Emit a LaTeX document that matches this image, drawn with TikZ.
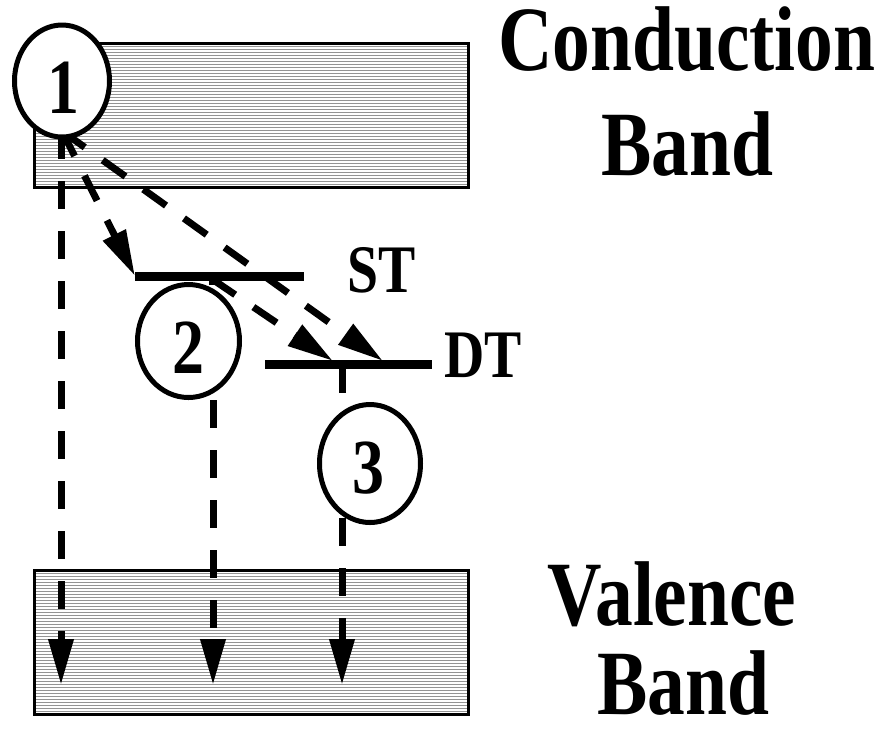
\documentclass[tikz,border=0pt]{standalone}
\usepackage{fontspec}
\usepackage{graphicx}
\setmainfont{Liberation Serif}
\usetikzlibrary{shapes.geometric, arrows.meta}
\newcommand{\sqz}[1]{\scalebox{0.82}[1]{#1}}
\begin{document}
\begin{tikzpicture}[x=0.5pt,y=-0.5pt,
  bandbox/.style={draw=black, line width=1.3pt, minimum width=217pt, minimum height=72pt, inner sep=0pt,
    path picture={\foreach \k in {1.5,3,...,72}{\draw[black!42, line width=0.65pt]
      ([yshift=-\k pt]path picture bounding box.north west) -- ([yshift=-\k pt]path picture bounding box.north east);}}},
  ring/.style={ellipse, draw=black, line width=2.5pt, fill=white, inner sep=0pt},
  lvl/.style={line width=4.5pt, line cap=butt},
  tick/.style={line width=3.5pt},
  dasharrow/.style={line width=3.5pt, dash pattern=on 14pt off 11pt, -{Triangle[length=23pt,width=12pt]}},
  bigtxt/.style={inner sep=0pt, anchor=base, font=\fontsize{46pt}{50pt}\selectfont\bfseries},
  midtxt/.style={inner sep=0pt, anchor=base, font=\fontsize{34pt}{38pt}\selectfont\bfseries},
  numtxt/.style={inner sep=0pt, anchor=base, font=\fontsize{39pt}{42pt}\selectfont\bfseries}
]
\useasboundingbox (0,0) rectangle (880,736);
\fill[white] (0,0) rectangle (880,736);

% bands
\node[bandbox] (cb) at (251.5,115.5) {};
\node[bandbox] (vb) at (251.5,642.5) {};

% trap levels
\coordinate (st1) at (135,276); \coordinate (st2) at (304,276);
\coordinate (dt1) at (265,364); \coordinate (dt2) at (432,364);
\draw[lvl] (st1) -- (st2);
\draw[lvl] (dt1) -- (dt2);

% connector end points
\coordinate (s1v) at (61,131);  \coordinate (e1v) at (61,685);
\coordinate (s1a) at (62,131);  \coordinate (e1a) at (135,276);
\coordinate (s1b) at (62,131);  \coordinate (e1b) at (383,361);
\coordinate (s2a) at (212,279); \coordinate (e2a) at (333,361);
\coordinate (s2v) at (213,400); \coordinate (e2v) at (213,685);
\coordinate (t2a) at (212,276); \coordinate (t2b) at (212,285);
\coordinate (t3a) at (342,364); \coordinate (t3b) at (342,393);
\coordinate (s3v) at (342,518); \coordinate (e3v) at (342,685);

\draw[dasharrow] (s1v) -- (e1v);
\draw[dasharrow] (s1a) -- (e1a);
\draw[dasharrow] (s1b) -- (e1b);
\draw[dasharrow] (s2a) -- (e2a);
\draw[dasharrow] (s2v) -- (e2v);
\draw[dasharrow] (s3v) -- (e3v);
\draw[tick] (t2a) -- (t2b);
\draw[tick] (t3a) -- (t3b);

% circles
\node[ring, minimum width=47.5pt, minimum height=56pt] (c1) at (62,81) {};
\node[ring, minimum width=51pt, minimum height=56.5pt] (c2) at (188.5,341) {};
\node[ring, minimum width=50.5pt, minimum height=59pt] (c3) at (370,463.5) {};
\node[numtxt] (n1) at (63,113) {\sqz{1}};
\node[numtxt] (n2) at (188,373) {\sqz{2}};
\node[numtxt] (n3) at (368,493) {\sqz{3}};

% labels
\node[midtxt] (lst) at (382,292) {\sqz{ST}};
\node[midtxt] (ldt) at (483,377) {\sqz{DT}};
\node[bigtxt] (lcb1) at (687,70) {\sqz{Conduction}};
\node[bigtxt] (lcb2) at (687.5,175) {\sqz{Band}};
\node[bigtxt] (lvb1) at (672,625) {\sqz{Valence}};
\node[bigtxt] (lvb2) at (683,714) {\sqz{Band}};
\end{tikzpicture}
\end{document}
